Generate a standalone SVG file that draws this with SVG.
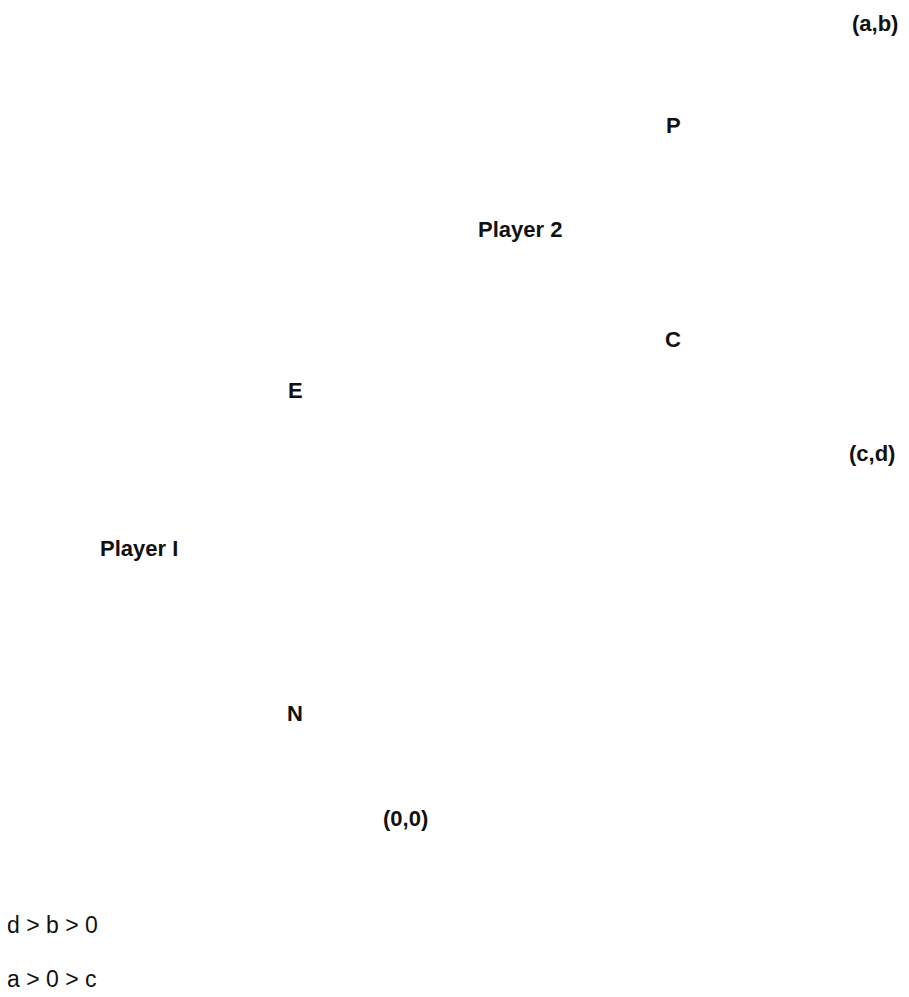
<svg xmlns="http://www.w3.org/2000/svg" width="909" height="997" viewBox="0 0 909 997">
<style>
text{font-family:"Liberation Sans","Open Sans",sans-serif;font-size:22px;font-weight:bold;fill:#111}
.n{font-weight:normal;font-size:23px}
</style>
<rect width="909" height="997" fill="#fff"/>
<g id="payoff-ab"><text x="852" y="31">(a,b)</text></g>
<g id="label-P"><text x="666" y="133">P</text></g>
<g id="player2"><text x="478" y="237">Player 2</text></g>
<g id="label-C"><text x="665" y="347">C</text></g>
<g id="label-E"><text x="288" y="398">E</text></g>
<g id="payoff-cd"><text x="849" y="461">(c,d)</text></g>
<g id="player1"><text x="100" y="556">Player I</text></g>
<g id="label-N"><text x="287" y="721">N</text></g>
<g id="payoff-00"><text x="383" y="826">(0,0)</text></g>
<g id="connectors"></g>
<g id="conditions">
<text class="n" x="7" y="933">d &gt; b &gt; 0</text>
<text class="n" x="7" y="987">a &gt; 0 &gt; c</text>
</g>
</svg>
